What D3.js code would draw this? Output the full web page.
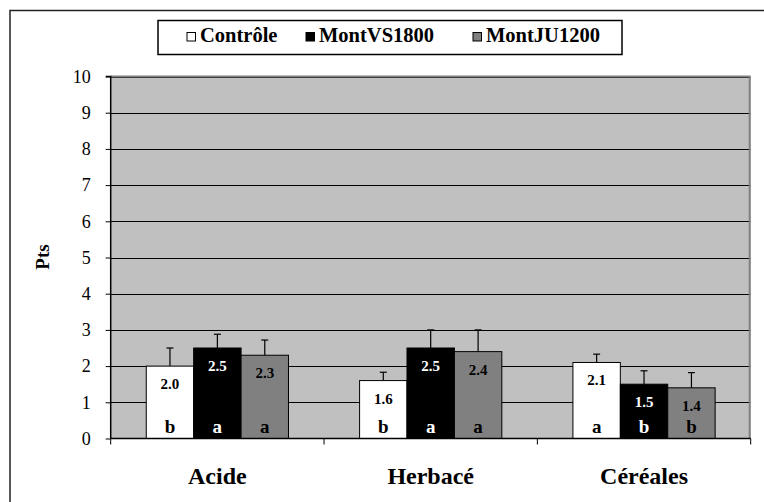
<!DOCTYPE html>
<html>
<head>
<meta charset="utf-8">
<script src="https://cdn.jsdelivr.net/npm/d3@7"></script>
<style>
  html, body { margin: 0; padding: 0; background: #fff; }
  svg { display: block; font-family: "Liberation Serif", "Times New Roman", serif; }
</style>
</head>
<body>
<svg id="chart" width="764" height="502"></svg>
<script>
const categories = ["Acide", "Herbacé", "Céréales"];
const seriesNames = ["Contrôle", "MontVS1800", "MontJU1200"];
const controle   = [2.0, 1.6, 2.1];
const montVS1800 = [2.5, 2.5, 1.5];
const montJU1200 = [2.3, 2.4, 1.4];
const errControle   = [0.5, 0.23, 0.23];
const errMontVS1800 = [0.38, 0.5, 0.37];
const errMontJU1200 = [0.42, 0.6, 0.42];
const letControle   = ["b", "b", "a"];
const letMontVS1800 = ["a", "a", "b"];
const letMontJU1200 = ["a", "a", "b"];
const yTicks = [0, 1, 2, 3, 4, 5, 6, 7, 8, 9, 10];

const fills = ["#FFFFFF", "#000000", "#808080"];
const labelColors = ["#000000", "#FFFFFF", "#000000"];

const values = [controle, montVS1800, montJU1200];
const errs = [errControle, errMontVS1800, errMontJU1200];
const lets = [letControle, letMontVS1800, letMontJU1200];

const data = [];
categories.forEach((c, i) => {
  seriesNames.forEach((s, j) => {
    data.push({ cat: c, ser: s, si: j, v: values[j][i], e: errs[j][i], l: lets[j][i] });
  });
});

const svg = d3.select("#chart");
const pLeft = 110.7, pRight = 750.7, pTop = 76.5, pBottom = 438.5;

const x0 = d3.scaleBand().domain(categories).range([pLeft, pRight]).paddingInner(0).paddingOuter(0);
const x1 = d3.scaleBand().domain(seriesNames).range([0, x0.bandwidth()]).paddingInner(0).paddingOuter(0.75);
const y = d3.scaleLinear().domain([0, 10]).range([pBottom, pTop]);

// outer chart border
svg.append("rect").attr("x", 10).attr("y", 10.5).attr("width", 800).attr("height", 600)
  .attr("fill", "none").attr("stroke", "#222").attr("stroke-width", 1.5);

// plot background
svg.append("rect").attr("x", pLeft).attr("y", pTop).attr("width", pRight - pLeft).attr("height", pBottom - pTop)
  .attr("fill", "#C0C0C0");

// gridlines
svg.append("g").selectAll("line").data(yTicks.filter(t => t > 0)).join("line")
  .attr("x1", pLeft).attr("x2", pRight)
  .attr("y1", d => Math.round(y(d)) + 0.5).attr("y2", d => Math.round(y(d)) + 0.5)
  .attr("stroke", "#000").attr("stroke-width", 1);

// plot border top/right
svg.append("path")
  .attr("d", `M${pLeft},${pTop} H${pRight - 1} V${pBottom}`)
  .attr("fill", "none").attr("stroke", "#808080").attr("stroke-width", 2);

// bars
const gBars = svg.append("g");
gBars.selectAll("rect").data(data).join("rect")
  .attr("x", d => x0(d.cat) + x1(d.ser))
  .attr("y", d => y(d.v))
  .attr("width", x1.bandwidth())
  .attr("height", d => y(0) - y(d.v))
  .attr("fill", d => fills[d.si])
  .attr("stroke", "#000").attr("stroke-width", 1);

// error bars
const gErr = svg.append("g").attr("stroke", "#000").attr("stroke-width", 1.2);
data.forEach(d => {
  const cx = x0(d.cat) + x1(d.ser) + x1.bandwidth() / 2;
  gErr.append("line").attr("x1", cx).attr("x2", cx).attr("y1", y(d.v)).attr("y2", y(d.v + d.e));
  gErr.append("line").attr("x1", cx - 3.5).attr("x2", cx + 3.5).attr("y1", y(d.v + d.e)).attr("y2", y(d.v + d.e));
});

// value labels
svg.append("g").selectAll("text").data(data).join("text")
  .attr("x", d => x0(d.cat) + x1(d.ser) + x1.bandwidth() / 2)
  .attr("y", d => y(d.v) + 23)
  .attr("text-anchor", "middle")
  .attr("font-weight", "bold").attr("font-size", 15)
  .attr("fill", d => labelColors[d.si])
  .text(d => d.v.toFixed(1));

// letters
svg.append("g").selectAll("text").data(data).join("text")
  .attr("x", d => x0(d.cat) + x1(d.ser) + x1.bandwidth() / 2)
  .attr("y", pBottom - 6)
  .attr("text-anchor", "middle")
  .attr("font-weight", "bold").attr("font-size", 19)
  .attr("fill", d => labelColors[d.si])
  .text(d => d.l);

// y axis
const yAxis = svg.append("g").attr("transform", `translate(${pLeft},0)`)
  .call(d3.axisLeft(y).tickValues(yTicks).tickSize(5).tickPadding(15).tickFormat(d3.format("d")));
yAxis.select(".domain").attr("stroke", "#000").attr("stroke-width", 1.5).attr("d", `M-5,${pTop}H0V${pBottom}`);
yAxis.selectAll("text").attr("font-family", "Liberation Serif, Times New Roman, serif")
  .attr("font-size", 18).attr("fill", "#000");
yAxis.selectAll(".tick line").attr("stroke", "#000");

// x axis
const xAxis = svg.append("g").attr("transform", `translate(0,${pBottom})`);
xAxis.append("line").attr("x1", pLeft).attr("x2", pRight).attr("y1", 0).attr("y2", 0)
  .attr("stroke", "#000").attr("stroke-width", 1.5);
const bounds = categories.map(c => x0(c)).concat([x0(categories[categories.length - 1]) + x0.bandwidth()]);
xAxis.selectAll("line.tk").data(bounds).join("line").attr("class", "tk")
  .attr("x1", d => d).attr("x2", d => d).attr("y1", 0).attr("y2", 6)
  .attr("stroke", "#000").attr("stroke-width", 1);
xAxis.selectAll("text").data(categories).join("text")
  .attr("x", d => x0(d) + x0.bandwidth() / 2)
  .attr("y", 45)
  .attr("text-anchor", "middle")
  .attr("font-weight", "bold").attr("font-size", 24)
  .text(d => d);

// y axis title
svg.append("text")
  .attr("transform", "translate(49,257) rotate(-90)")
  .attr("text-anchor", "middle")
  .attr("font-weight", "bold").attr("font-size", 19)
  .text("Pts");

// legend
const lg = svg.append("g");
lg.append("rect").attr("x", 158).attr("y", 20.5).attr("width", 464).attr("height", 34)
  .attr("fill", "#fff").attr("stroke", "#000").attr("stroke-width", 1.5);
const legX = [187, 306, 473];
seriesNames.forEach((s, j) => {
  lg.append("rect").attr("x", legX[j]).attr("y", 32.5).attr("width", 8.5).attr("height", 8.5)
    .attr("fill", fills[j]).attr("stroke", "#000").attr("stroke-width", 1);
  lg.append("text").attr("x", legX[j] + 13).attr("y", 41.5)
    .attr("font-weight", "bold").attr("font-size", 20.5)
    .text(s);
});
</script>
</body>
</html>
